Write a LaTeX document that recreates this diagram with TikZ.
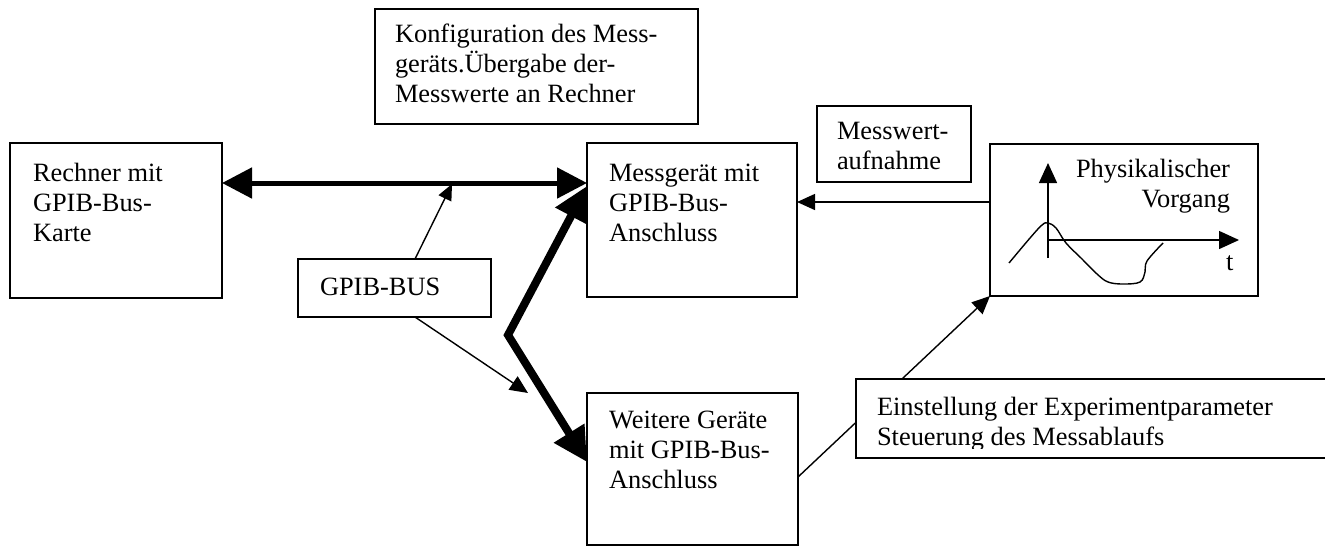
\documentclass[tikz,border=0pt]{standalone}
\usepackage{fontspec}
\setmainfont{Liberation Serif}
\usetikzlibrary{arrows.meta}
\newcommand\txtlines[1]{\begin{tabular}[t]{@{}l@{}}#1\end{tabular}}
\newcommand\txtlinesr[1]{\begin{tabular}[t]{@{}r@{}}#1\end{tabular}}
\tikzset{
  mainbox/.style={draw, line width=1pt, inner sep=0pt, outer sep=0pt, anchor=north west, fill=white},
  labelbox/.style={draw, line width=0.7pt, inner sep=0pt, outer sep=0pt, anchor=north west, fill=white},
  txt/.style={inner sep=0pt, outer sep=0pt, anchor=base west, font=\fontsize{13.2}{15}\selectfont},
  txtr/.style={txt, anchor=base east},
  busline/.style={line width=2.5pt, {Triangle[length=15pt,width=15pt]}-{Triangle[length=15pt,width=15pt]}},
  zigline/.style={line width=4pt, line join=miter, {Triangle[length=17pt,width=17pt]}-{Triangle[length=17pt,width=17pt]}},
  thinarrow/.style={line width=0.7pt, -{Triangle[length=9pt,width=8pt]}},
  smallarrow/.style={line width=0.7pt, -{Triangle[length=8pt,width=7pt]}},
  axisline/.style={line width=0.7pt, -{Triangle[length=10pt,width=9pt]}},
  curveline/.style={line width=0.7pt},
}
\begin{document}
\begin{tikzpicture}[x=0.5pt, y=-0.5pt]
\useasboundingbox (0,0) rectangle (1325,547);

% main boxes
\node[mainbox, minimum width=106pt, minimum height=77.5pt] (rech) at (10,143) {};
\node[mainbox, minimum width=105pt, minimum height=77pt] (mess) at (587,143) {};
\node[mainbox, minimum width=134pt, minimum height=76pt] (phys) at (990,144) {};
\node[mainbox, minimum width=105.5pt, minimum height=76pt] (weit) at (587,393) {};

% label boxes
\node[labelbox, minimum width=161.5pt, minimum height=57.5pt] (konf) at (375,9) {};
\node[labelbox, minimum width=77pt, minimum height=38pt] (mwa) at (817,106) {};
\node[labelbox, minimum width=96.5pt, minimum height=29pt] (gpib) at (298,259) {};

% texts
\node[txt] (rechT) at (33,181) {\txtlines{Rechner mit\\GPIB-Bus-\\Karte}};
\node[txt] (messT) at (609,181) {\txtlines{Messgerät mit\\GPIB-Bus-\\Anschluss}};
\node[txt] (weitT) at (609,428) {\txtlines{Weitere Geräte\\mit GPIB-Bus-\\Anschluss}};
\node[txt] (konfT) at (395,42) {\txtlines{Konfiguration des Mess-\\geräts.Übergabe der-\\Messwerte an Rechner}};
\node[txt] (mwaT) at (837,139) {\txtlines{Messwert-\\aufnahme}};
\node[txt] (gpibT) at (320,295) {GPIB-BUS};
\node[txtr] (physT) at (1230,177) {\txtlinesr{Physikalischer\\Vorgang}};
\node[txt] (tT) at (1226,270) {t};

% graph inside physical box
\draw[axisline] (1048,258) -- (1048,163);
\draw[axisline] (1048,240) -- (1239,240);
\draw[curveline] plot[smooth, tension=0.6] coordinates {(1009,263) (1030,238) (1042,225) (1048,223) (1056,228) (1066,243) (1082,259) (1097,274) (1108,282) (1123,284) (1140,282) (1145,272) (1147,261) (1163,243)};

% connectors
\coordinate (zz) at (508,335);
\draw[busline] (rech.east |- 0,183) -- (mess.west |- 0,183);
\coordinate (busmid) at (452,184);
\draw[smallarrow] (gpib.north -| 415,0) -- (busmid);
\coordinate (gpibtip) at (528,393);
\draw[thinarrow] (gpib.south -| 415,0) -- (gpibtip);
\draw[zigline] (mess.west |- 0,186) -- (zz) -- (weit.west |- 0,462);
\draw[thinarrow] (phys.west |- 0,202) -- (mess.east |- 0,202);
\draw[thinarrow] (weit.east |- 0,477) -- (phys.south west);

% Einstellung box (on top of connector); its right edge lies beyond the page
\node[labelbox, minimum width=237pt, minimum height=39.5pt] (einst) at (856,379) {};
\begin{scope}
  \clip (856,379) rectangle (1320,448);
  \node[txt] (einstT) at (877,415) {\txtlines{Einstellung der Experimentparameter\\Steuerung des Messablaufs}};
\end{scope}
\end{tikzpicture}
\end{document}
